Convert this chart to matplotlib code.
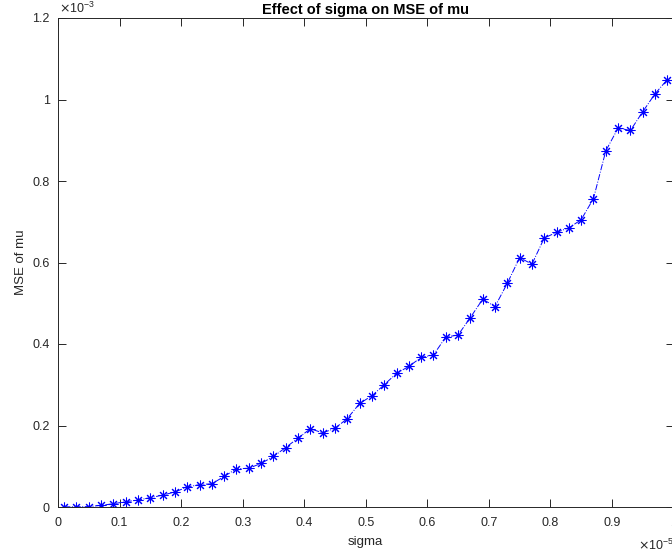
import matplotlib
matplotlib.use("Agg")
import matplotlib.pyplot as plt
import numpy as np

plt.rcParams['font.family'] = ['Liberation Sans', 'DejaVu Sans']

# sigma in units of 1e-5, MSE in units of 1e-3
sigma = [0.01, 0.03, 0.05, 0.07, 0.09, 0.11, 0.13, 0.15, 0.17, 0.19,
         0.21, 0.23, 0.25, 0.27, 0.29, 0.31, 0.33, 0.35, 0.37, 0.39,
         0.41, 0.43, 0.45, 0.47, 0.49, 0.51, 0.53, 0.55, 0.57, 0.59,
         0.61, 0.63, 0.65, 0.67, 0.69, 0.71, 0.73, 0.75, 0.77, 0.79,
         0.81, 0.83, 0.85, 0.87, 0.89, 0.91, 0.93, 0.95, 0.97, 0.99]
mse = [0.0003, 0.0005, 0.001, 0.004, 0.008, 0.013, 0.017, 0.023, 0.029, 0.037,
       0.049, 0.055, 0.057, 0.075, 0.094, 0.095, 0.107, 0.124, 0.146, 0.169,
       0.192, 0.182, 0.193, 0.217, 0.254, 0.273, 0.300, 0.328, 0.345, 0.367,
       0.373, 0.417, 0.422, 0.465, 0.510, 0.492, 0.549, 0.612, 0.596, 0.660,
       0.674, 0.685, 0.705, 0.757, 0.874, 0.930, 0.924, 0.970, 1.014, 1.049]

xticks = [0, 0.1, 0.2, 0.3, 0.4, 0.5, 0.6, 0.7, 0.8, 0.9, 1]
yticks = [0, 0.2, 0.4, 0.6, 0.8, 1, 1.2]

W, H = 672, 556
fig = plt.figure(figsize=(W / 100, H / 100), dpi=100)
ax = fig.add_axes([58 / W, 49 / H, 615.5 / W, 489 / H])

dark = '#262626'
# 8-armed asterisk marker, dash-dot line
ax.plot(sigma, mse, color='blue', linestyle='-.', linewidth=0.7,
        marker=(8, 2, 0), markersize=7, markeredgewidth=0.75)

ax.set_xlim(0, 1)
ax.set_ylim(0, 1.2)
ax.set_xticks(xticks)
ax.set_yticks(yticks)
ax.set_xticklabels(['%g' % t for t in xticks])
ax.set_yticklabels(['%g' % t for t in yticks])
ax.tick_params(direction='in', length=6, width=0.7, colors=dark,
               labelsize=9, top=True, right=True)
ax.tick_params(axis='y', pad=6)
ax.tick_params(axis='x', pad=7)
for s in ax.spines.values():
    s.set_color(dark)
    s.set_linewidth(0.7)

ax.set_title('Effect of sigma on MSE of mu', fontsize=10.5, fontweight='bold',
             color='black', pad=3)
ax.set_xlabel('sigma', fontsize=9.5, color=dark, labelpad=5)
ax.set_ylabel('MSE of mu', fontsize=9.5, color=dark, labelpad=4)

# exponent multipliers
ax.text(0.002, 1.004, r'$\times\mathregular{10^{-3}}$', transform=ax.transAxes,
        fontsize=9, color=dark, ha='left', va='bottom')
ax.text(0.942, -0.063, r'$\times\mathregular{10^{-5}}$', transform=ax.transAxes,
        fontsize=9, color=dark, ha='left', va='top')

fig.savefig('out.png', dpi=100)
